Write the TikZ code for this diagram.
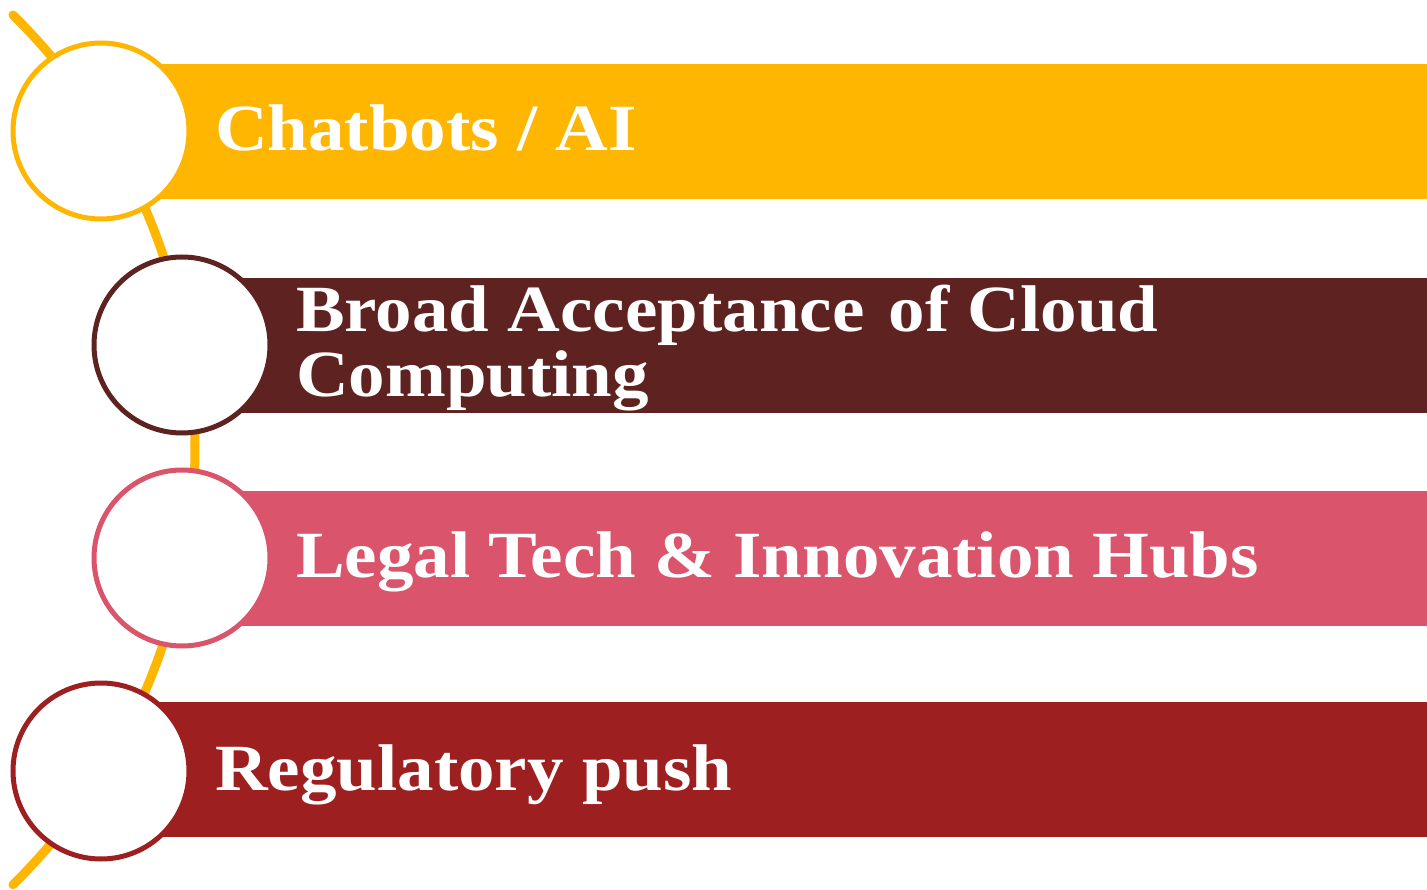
\documentclass[tikz,border=0pt]{standalone}
\usepackage{fontspec}
\newfontfamily\barfont{Liberation Serif}[FakeStretch=1.106]
\definecolor{cy}{HTML}{FFB600}
\definecolor{cb}{HTML}{5E2220}
\definecolor{cp}{HTML}{DA546B}
\definecolor{cr}{HTML}{9E1F20}
\begin{document}
\begin{tikzpicture}[x=1pt,y=-1pt,
  bar/.style={rectangle, draw=none, fill=#1, minimum width=1326pt, minimum height=135pt, anchor=north west, inner sep=0pt, outer sep=0pt},
  ring/.style={circle, draw=#1, line width=5pt, fill=white, minimum size=176pt, inner sep=0pt},
  label/.style={text=white, anchor=base west, inner sep=0pt, font=\barfont\bfseries\fontsize{66}{66}\selectfont}]
\useasboundingbox (0,0) rectangle (1427,890);
\fill[white] (0,0) rectangle (1427,890);
% guiding arc
\coordinate (arcstart) at (13,15);
\draw[cy, line width=9pt, line cap=round] (arcstart) arc[start angle=45.4, end angle=-45.4, radius=610.8pt];
% bars
\node[bar=cy] (b1) at (101,64) {};
\node[bar=cb] (b2) at (181,278) {};
\node[bar=cp] (b3) at (181,491) {};
\node[bar=cr] (b4) at (101,702) {};
% circles
\node[ring=cy] (c1) at (101,131) {};
\node[ring=cb] (c2) at (182,345) {};
\node[ring=cp] (c3) at (182,558) {};
\node[ring=cr] (c4) at (101,771) {};
% texts
\node[label] (t1) at (215,151) {Chatbots / AI};
\node[label] (t2) at (296,332) {\vtop{\baselineskip=65pt\hbox{Broad Acceptance\hspace{6pt} of Cloud}\hbox{Computing}}};
\node[label] (t3) at (296,577) {Legal Tech \& Innovation Hubs};
\node[label] (t4) at (215,790) {Regulatory push};
\end{tikzpicture}
\end{document}
